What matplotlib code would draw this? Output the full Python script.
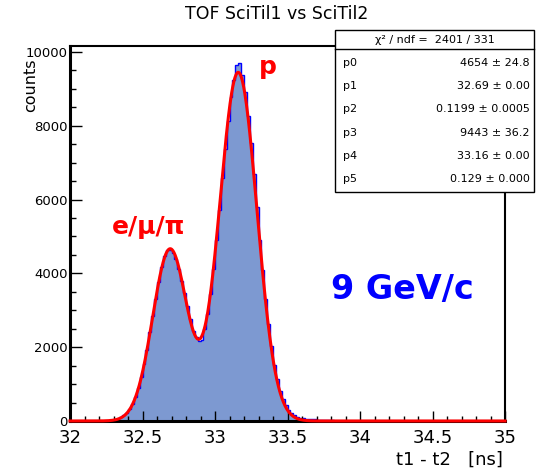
import numpy as np
import matplotlib.pyplot as plt
from matplotlib.patches import Rectangle
from matplotlib.lines import Line2D
from matplotlib.ticker import MultipleLocator

# histogram: t1 - t2, 0.02 ns bins from 32.20 to 34.00
bin_lo = 32.20
bin_w = 0.02
counts = [0, 2, 5, 12, 20, 35, 55, 95, 150, 225,
          320, 470, 650, 880, 1190, 1540, 1930, 2400, 2850, 3300,
          3760, 4160, 4470, 4620, 4640, 4560, 4390, 4120, 3800, 3480,
          3120, 2760, 2440, 2280, 2180, 2200, 2500, 2900, 3440, 4120,
          4900, 5720, 6580, 7380, 8120, 8780, 9250, 9640, 9690, 9380,
          8900, 8250, 7520, 6700, 5800, 4900, 4080, 3300, 2620, 2020,
          1530, 1130, 820, 590, 420, 300, 220, 170, 120, 90,
          70, 60, 50, 45, 45, 40, 40, 35, 35, 30,
          15, 12, 10, 10, 8, 8, 6, 5, 4, 3]

# double gaussian fit result
par_names = ['p0', 'p1', 'p2', 'p3', 'p4', 'p5']
par_vals = [4654, 32.69, 0.1199, 9443, 33.16, 0.129]
par_text = ['4654 \u00b1 24.8', '32.69 \u00b1 0.00', '0.1199 \u00b1 0.0005',
            '9443 \u00b1 36.2', '33.16 \u00b1 0.00', '0.129 \u00b1 0.000']
chi2_text = '\u03c7\u00b2 / ndf =  2401 / 331'

xtick_vals = [32, 32.5, 33, 33.5, 34, 34.5, 35]
xtick_labels = ['32', '32.5', '33', '33.5', '34', '34.5', '35']
ytick_vals = [0, 2000, 4000, 6000, 8000, 10000]
ytick_labels = ['0', '2000', '4000', '6000', '8000', '10000']

edges = bin_lo + bin_w*np.arange(len(counts)+1)

def fitfunc(x, p):
    g1 = p[0]*np.exp(-0.5*((x-p[1])/p[2])**2)
    g2 = p[3]*np.exp(-0.5*((x-p[4])/p[5])**2)
    return g1 + g2

plt.rcParams['font.family'] = ['DejaVu Sans']

fig = plt.figure(figsize=(5.39, 4.70), dpi=100)
ax = fig.add_axes([0.1299, 0.1043, 0.8071, 0.7979])

ax.stairs(counts, edges, fill=True, color='#7d99d1', linewidth=0)
ax.stairs(counts, edges, color='#0000ff', linewidth=1)

xf = np.linspace(32, 35, 800)
ax.plot(xf, fitfunc(xf, par_vals), color='#ff0000', linewidth=2.2,
        zorder=3, clip_on=False)

ax.set_xlim(32, 35)
ax.set_ylim(0, 10160)
ax.set_xticks(xtick_vals)
ax.set_xticklabels(xtick_labels, fontsize=13)
ax.set_yticks(ytick_vals)
ax.set_yticklabels(ytick_labels, fontsize=9.5)
ax.xaxis.set_minor_locator(MultipleLocator(0.1))
ax.yaxis.set_minor_locator(MultipleLocator(500))
ax.tick_params(axis='x', which='major', direction='in', length=7.5, width=1, pad=5.5)
ax.tick_params(axis='x', which='minor', direction='in', length=3.8, width=1)
ax.tick_params(axis='y', which='major', direction='in', length=8.6, width=1, pad=1.5)
ax.tick_params(axis='y', which='minor', direction='in', length=4.3, width=1)
for s in ax.spines.values():
    s.set_linewidth(1.5)
ax.spines['left'].set_linewidth(2.2)
ax.spines['bottom'].set_linewidth(2.2)

fig.text(0.514, 0.970, 'TOF SciTil1 vs SciTil2', fontsize=12.5,
         ha='center', va='center')
fig.text(0.056, 0.875, 'counts', fontsize=11.5, rotation=90,
         ha='center', va='top')
fig.text(0.933, 0.021, 't1 - t2   [ns]', fontsize=13,
         ha='right', va='center')

# peak labels
fig.text(0.497, 0.857, 'p', fontsize=18, color='#ff0000',
         fontweight='bold', ha='center', va='center')
fig.text(0.275, 0.516, 'e/\u03bc/\u03c0', fontsize=18, color='#ff0000',
         fontweight='bold', ha='center', va='center')
fig.text(0.746, 0.385, '9 GeV/c', fontsize=24, color='#0000ff',
         fontweight='bold', ha='center', va='center')

# stats box
bx0, bx1 = 335/539, 534/539
by0, by1 = 1-192/470, 1-30/470
fig.add_artist(Rectangle((bx0, by0), bx1-bx0, by1-by0, transform=fig.transFigure,
                         facecolor='white', edgecolor='black', linewidth=1,
                         zorder=5))
fig.add_artist(Line2D([bx0, bx1], [1-49/470, 1-49/470], transform=fig.transFigure,
                      color='black', linewidth=1, zorder=6))
fig.text((bx0+bx1)/2, 1-40/470, chi2_text, fontsize=8, ha='center', va='center',
         zorder=7)
for i in range(len(par_names)):
    yy = 1 - (63 + 23.2*i)/470
    fig.text(343/539, yy, par_names[i], fontsize=8, ha='left', va='center', zorder=7)
    fig.text(530/539, yy, par_text[i], fontsize=8, ha='right', va='center', zorder=7)

plt.savefig('out.png', dpi=100)
